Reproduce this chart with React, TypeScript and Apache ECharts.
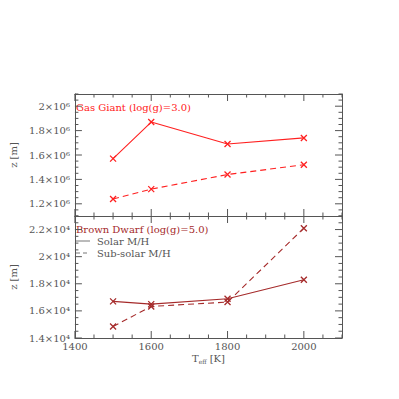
import React, { useEffect, useRef } from "react";
import * as echarts from "echarts";

const temps = [1500, 1600, 1800, 2000];
const gasSolar = [1.57e6, 1.87e6, 1.69e6, 1.74e6];
const gasSub = [1.24e6, 1.32e6, 1.44e6, 1.52e6];
const bdSolar = [1.67e4, 1.65e4, 1.69e4, 1.83e4];
const bdSub = [1.485e4, 1.633e4, 1.665e4, 2.21e4];
const xTicks = [1400, 1600, 1800, 2000];
const gasTicks = [1.2e6, 1.4e6, 1.6e6, 1.8e6, 2.0e6];
const bdTicks = [1.4e4, 1.6e4, 1.8e4, 2.0e4, 2.2e4];
const gasTitle = "Gas Giant (log(g)=3.0)";
const bdTitle = "Brown Dwarf (log(g)=5.0)";
const legendNames = ["Solar M/H", "Sub-solar M/H"];

const FONT = "DejaVu Serif";
const AX = "#555";
const RED = "#ff2020";
const BROWN = "#a52a2a";
const SUP: Record<string, string> = { "0": "⁰", "1": "¹", "2": "²", "3": "³", "4": "⁴", "5": "⁵", "6": "⁶", "7": "⁷", "8": "⁸", "9": "⁹" };

function sci(v: number): string {
  const e = Math.floor(Math.log10(v) + 1e-9);
  const m = Math.round((v / Math.pow(10, e)) * 100) / 100;
  const sup = String(e).split("").map((c) => SUP[c]).join("");
  return `${m}×10${sup}`;
}

function steps(min: number, max: number, step: number): number[] {
  const out: number[] = [];
  const n = Math.round((max - min) / step);
  for (let i = 0; i <= n; i++) out.push(min + i * step);
  return out;
}

const X_MARK = "path://M0,0L10,10M10,0L0,10";
const X_MIN = 1400, X_MAX = 2100, X_MINOR = 50;
const MAJ = 7, MIN = 3.5;

export default function App() {
  const ref = useRef<HTMLDivElement>(null);
  useEffect(() => {
    if (!ref.current) return;
    const chart = echarts.init(ref.current, null, { renderer: "svg" });
    const ranges = [
      { min: 1.1e6, max: 2.1e6, minor: 0.05e6, ticks: gasTicks },
      { min: 1.4e4, max: 2.3e4, minor: 0.05e4, ticks: bdTicks },
    ];
    const xAxes: any[] = [];
    const yAxes: any[] = [];
    const series: any[] = [];
    [0, 1].forEach((g) => {
      const r = ranges[g];
      xAxes.push({
        type: "value", gridIndex: g, position: "bottom", min: X_MIN, max: X_MAX, interval: 200,
        axisLine: { show: true, onZero: false, lineStyle: { color: AX, width: 1 } },
        axisTick: { show: false },
        axisLabel: { show: g === 1, customValues: xTicks, color: AX, fontFamily: FONT, fontSize: 10, margin: 3, formatter: (v: number) => String(v) },
        splitLine: { show: false },
        name: g === 1 ? "{a|T}{b|eff}{a| [K]}" : "",
        nameLocation: "middle", nameGap: 14,
        nameTextStyle: { rich: { a: { fontFamily: FONT, fontSize: 10, color: AX }, b: { fontFamily: FONT, fontSize: 6, color: AX, verticalAlign: "bottom", padding: [6, 0, 0, 0] } } },
      });
      xAxes.push({
        type: "value", gridIndex: g, position: "top", min: X_MIN, max: X_MAX, interval: 200,
        axisLine: { show: true, onZero: false, lineStyle: { color: AX, width: 1 } },
        axisTick: { show: false }, axisLabel: { show: false }, splitLine: { show: false },
      });
      yAxes.push({
        type: "value", gridIndex: g, position: "left", min: r.min, max: r.max, interval: r.minor,
        axisLine: { show: true, onZero: false, lineStyle: { color: AX, width: 1 } },
        axisTick: { show: false },
        axisLabel: { show: true, customValues: r.ticks, color: AX, fontFamily: FONT, fontSize: 10, margin: 5, formatter: (v: number) => sci(v) },
        splitLine: { show: false },
        name: "z [m]", nameLocation: "middle", nameGap: 53,
        nameTextStyle: { fontFamily: FONT, fontSize: 10, color: AX },
      });
      yAxes.push({
        type: "value", gridIndex: g, position: "right", min: r.min, max: r.max, interval: r.minor,
        axisLine: { show: true, onZero: false, lineStyle: { color: AX, width: 1 } },
        axisTick: { show: false }, axisLabel: { show: false }, splitLine: { show: false },
      });
      // tick marks: [value, isMajor, kind(0=x,1=y)]
      const tickData: number[][] = [];
      steps(X_MIN, X_MAX, X_MINOR).forEach((v) => tickData.push([v, xTicks.some((t) => Math.abs(t - v) < 1e-6) ? 1 : 0, 0]));
      steps(r.min, r.max, r.minor).forEach((v) => tickData.push([v, r.ticks.some((t) => Math.abs(t - v) < r.minor / 100) ? 1 : 0, 1]));
      series.push({
        type: "custom", xAxisIndex: g * 2, yAxisIndex: g * 2, clip: false, silent: true, z: 1,
        data: tickData,
        encode: { x: -1, y: -1 },
        renderItem: (params: any, api: any) => {
          const v = api.value(0);
          const len = api.value(1) ? MAJ : MIN;
          const kind = api.value(2);
          const style = { stroke: AX, lineWidth: 1 };
          if (kind === 0) {
            const b = api.coord([v, r.min]);
            const t = api.coord([v, r.max]);
            return {
              type: "group", children: [
                { type: "line", shape: { x1: b[0], y1: b[1], x2: b[0], y2: b[1] - len }, style },
                { type: "line", shape: { x1: t[0], y1: t[1], x2: t[0], y2: t[1] + len }, style },
              ],
            };
          }
          const l = api.coord([X_MIN, v]);
          const rt = api.coord([X_MAX, v]);
          return {
            type: "group", children: [
              { type: "line", shape: { x1: l[0], y1: l[1], x2: l[0] + len, y2: l[1] }, style },
              { type: "line", shape: { x1: rt[0], y1: rt[1], x2: rt[0] - len, y2: rt[1] }, style },
            ],
          };
        },
      });
    });
    const mk = (name: string, g: number, ys: number[], color: string, dashed: boolean) => ({
      name, type: "line", xAxisIndex: g * 2, yAxisIndex: g * 2, z: 3,
      data: temps.map((t, i) => [t, ys[i]]),
      symbol: X_MARK, symbolSize: 6,
      itemStyle: { color, borderColor: color, borderWidth: 1.3 },
      lineStyle: { color, width: 1.1, type: dashed ? [6, 4] : "solid" },
    });
    series.push(
      mk("Gas solar", 0, gasSolar, RED, false),
      mk("Gas sub", 0, gasSub, RED, true),
      mk("BD solar", 1, bdSolar, BROWN, false),
      mk("BD sub", 1, bdSub, BROWN, true),
    );
    const LX = 76;
    chart.setOption({
      animation: false,
      grid: [
        { left: 62, right: 57, top: 94, height: 122 },
        { left: 62, right: 57, top: 216, height: 122 },
      ],
      xAxis: xAxes,
      yAxis: yAxes,
      graphic: [
        { type: "text", x: LX, y: 107, style: { text: gasTitle, fill: RED, font: `10px '${FONT}'`, verticalAlign: "middle" } },
        { type: "text", x: LX, y: 229, style: { text: bdTitle, fill: BROWN, font: `10px '${FONT}'`, verticalAlign: "middle" } },
        { type: "line", shape: { x1: LX, y1: 241, x2: LX + 14, y2: 241 }, style: { stroke: "#777", lineWidth: 1 } },
        { type: "text", x: LX + 21, y: 241, style: { text: legendNames[0], fill: AX, font: `10px '${FONT}'`, verticalAlign: "middle" } },
        { type: "line", shape: { x1: LX, y1: 253, x2: LX + 14, y2: 253 }, style: { stroke: "#777", lineWidth: 1, lineDash: [4, 3] } },
        { type: "text", x: LX + 21, y: 253, style: { text: legendNames[1], fill: AX, font: `10px '${FONT}'`, verticalAlign: "middle" } },
      ],
      series,
    });
    return () => chart.dispose();
  }, []);
  return <div ref={ref} style={{ width: 399, height: 399, position: "absolute", left: 0, top: 0 }} />;
}
